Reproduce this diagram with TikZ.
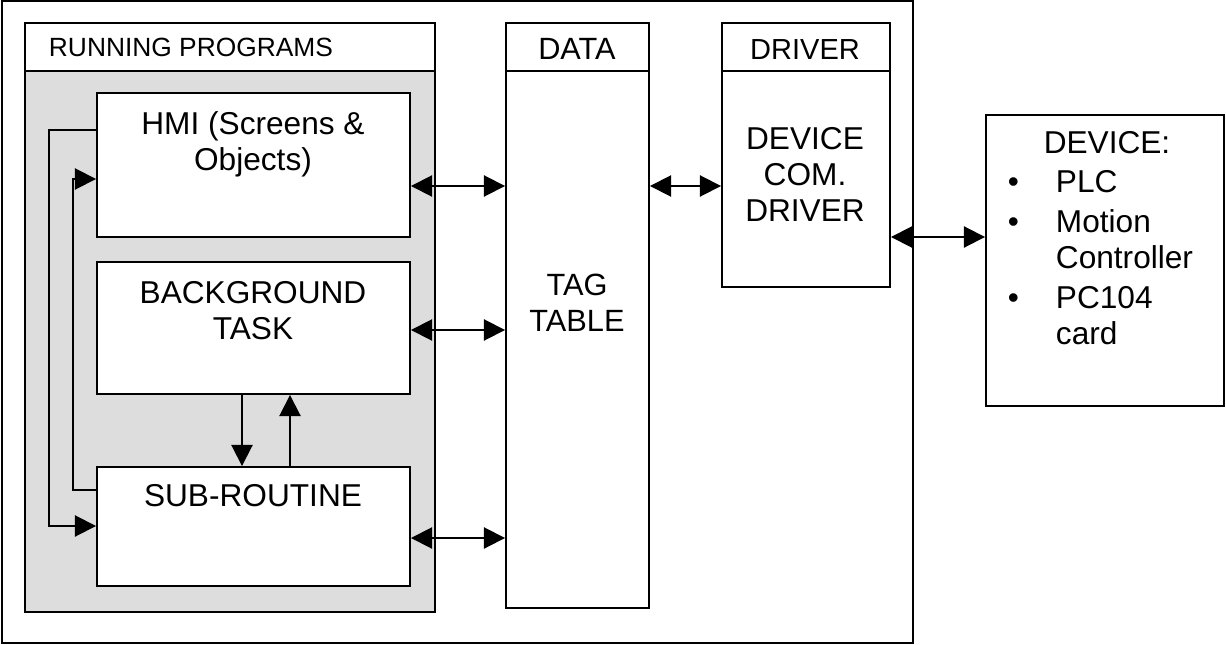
\documentclass[tikz,border=0pt]{standalone}
\usepackage{fontspec}
\setmainfont{Liberation Sans}
\usetikzlibrary{arrows.meta, fit, positioning}
\definecolor{fond}{RGB}{221,221,221}

\begin{document}
\begin{tikzpicture}[x=0.02cm, y=-0.02cm, line width=1.1pt,
    >={Triangle[length=12pt, width=12pt]},
    box/.style={draw, fill=white, inner sep=0pt},
    txt/.style={inner sep=0pt, align=center, font=\fontsize{18}{20.5}\selectfont}]
    \useasboundingbox (0,0) rectangle (1226,645);

    % Cadre extérieur
    \draw (2,1) rectangle (913,643);

    % Programmes en cours
    \node[box, fit={(25,23) (435,71)}] (rph) {};
    \node[box, fill=fond, fit={(25,71) (435,612)}] (rp) {};
    \node[txt, font=\fontsize{15}{17}\selectfont, anchor=base west] (rph-t) at (48,57) {RUNNING PROGRAMS};
    \node[box, fit={(97,93) (410,237)}] (hmi) {};
    \node[box, fit={(97,262) (410,394)}] (bg) {};
    \node[box, fit={(97,467) (410,586)}] (sub) {};
    \node[txt, anchor=north] (hmi-t) at (253,111) {HMI (Screens \&\\Objects)};
    \node[txt, anchor=north] (bg-t) at (253,280) {BACKGROUND\\TASK};
    \node[txt, anchor=base] (sub-t) at (253,506) {SUB-ROUTINE};

    % Données et pilote
    \node[box, fit={(506,23) (649,71)}] (datah) {};
    \node[box, fit={(506,71) (649,608)}] (data) {};
    \node[txt, font=\fontsize{17.5}{20.5}\selectfont, anchor=base] (datah-t) at (577,60) {DATA};
    \node[txt, font=\fontsize{17.5}{20.5}\selectfont, anchor=north] (data-t) at (577,273) {TAG\\TABLE};
    \node[box, fit={(722,23) (890,71)}] (drvh) {};
    \node[box, fit={(722,71) (890,287)}] (drv) {};
    \node[txt, font=\fontsize{16.5}{20.5}\selectfont, anchor=base] (drvh-t) at (805,60) {DRIVER};
    \node[txt, anchor=north] (drv-t) at (805,126) {DEVICE\\COM.\\DRIVER};

    % Appareil
    \node[box, fit={(986,115) (1224,406)}] (dev) {};
    \node[txt, anchor=base] (dev-t) at (1107,154) {DEVICE:};
    \node[txt, anchor=base west] (dev-l) at (1007,193) {%
        \begin{tabular}[t]{@{}l@{\hspace{21pt}}l@{}}
            \textbullet & PLC\\[2pt]
            \textbullet & Motion\\
                        & Controller\\[2pt]
            \textbullet & PC104\\
                        & card
        \end{tabular}};

    % Liaisons
    \draw[<->] (hmi.east |- 0,186) -- (data.west |- 0,186);
    \draw[<->] (bg.east |- 0,330) -- (data.west |- 0,330);
    \draw[<->] (sub.east |- 0,538) -- (data.west |- 0,538);
    \draw[<->] (data.east |- 0,186) -- (drv.west |- 0,186);
    \draw[<->] (drv.east |- 0,237) -- (dev.west |- 0,237);
    \draw[->] (bg.south -| 242,0) -- (sub.north -| 242,0);
    \draw[->] (sub.north -| 290,0) -- (bg.south -| 290,0);
    \draw[->] (hmi.west |- 0,130) -| (49,526) -- (sub.west |- 0,526);
    \draw[->] (sub.west |- 0,490) -| (73,179) -- (hmi.west |- 0,179);
\end{tikzpicture}
\end{document}
